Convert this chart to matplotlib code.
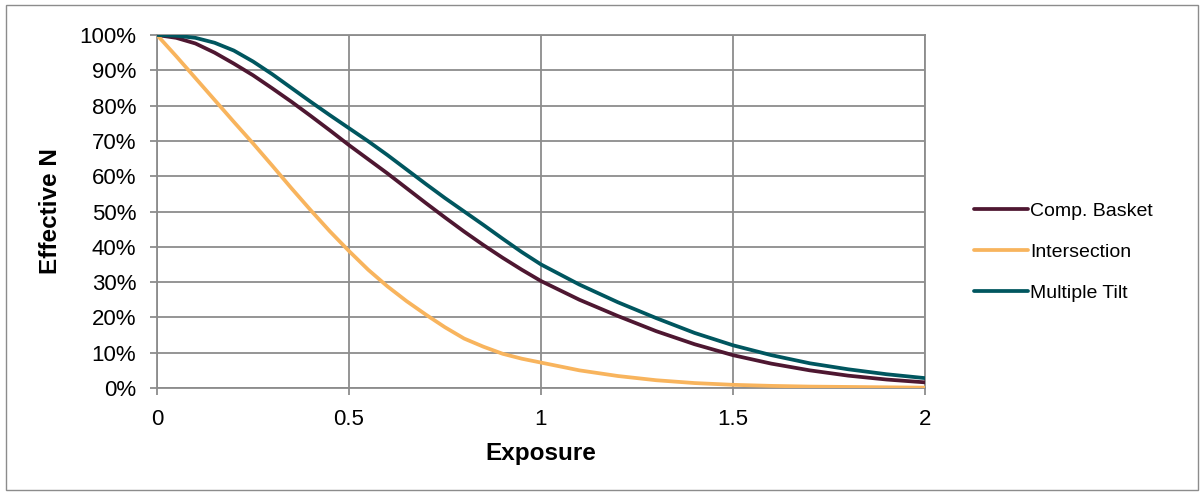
import matplotlib.pyplot as plt
from matplotlib.patches import Rectangle
from matplotlib.ticker import FuncFormatter, MultipleLocator

plt.rcParams["font.family"] = ["Liberation Sans", "DejaVu Sans"]

# Exposure grid (x) and Effective N in %
exposure = [0.00, 0.05, 0.10, 0.15, 0.20, 0.25, 0.30, 0.35, 0.40, 0.45, 0.50,
            0.55, 0.60, 0.65, 0.70, 0.75, 0.80, 0.85, 0.90, 0.95, 1.00,
            1.1, 1.2, 1.3, 1.4, 1.5, 1.6, 1.7, 1.8, 1.9, 2.0]
comp_basket = [100, 99.2, 97.6, 95.0, 91.9, 88.6, 84.9, 81.1, 77.1, 73.0, 68.8,
               64.8, 60.8, 56.6, 52.4, 48.3, 44.3, 40.5, 36.9, 33.5, 30.3,
               25.0, 20.4, 16.1, 12.4, 9.3, 6.9, 5.0, 3.5, 2.4, 1.6]
intersection = [100, 94.0, 87.8, 81.6, 75.4, 69.3, 63.0, 56.6, 50.4, 44.4, 38.8,
                33.5, 28.8, 24.6, 20.8, 17.2, 14.0, 11.7, 9.7, 8.3, 7.2,
                5.0, 3.4, 2.2, 1.4, 0.9, 0.6, 0.4, 0.3, 0.2, 0.1]
multiple_tilt = [100, 99.8, 99.2, 97.8, 95.6, 92.5, 88.9, 85.0, 81.1, 77.3, 73.6,
                 69.9, 66.0, 61.9, 57.8, 53.8, 50.0, 46.2, 42.3, 38.5, 35.0,
                 29.3, 24.3, 19.8, 15.6, 12.1, 9.3, 7.0, 5.3, 3.9, 2.8]

SERIES = [
    ("Comp. Basket", comp_basket, "#4E1731"),
    ("Intersection", intersection, "#F8B45D"),
    ("Multiple Tilt", multiple_tilt, "#00565F"),
]
GRID = "#8C8C8C"

fig = plt.figure(figsize=(12.04, 4.95), dpi=100)
ax = fig.add_axes([157 / 1204, 1 - 388 / 495, (925 - 157) / 1204, (388 - 35) / 495])

for label, values, color in SERIES:
    ax.plot(exposure, values, color=color, linewidth=2.7, label=label,
            solid_capstyle="round", solid_joinstyle="round", zorder=3)

ax.set_xlim(0, 2)
ax.set_ylim(0, 100)
ax.xaxis.set_major_locator(MultipleLocator(0.5))
ax.yaxis.set_major_locator(MultipleLocator(10))
ax.xaxis.set_major_formatter(FuncFormatter(lambda v, _: f"{v:g}"))
ax.yaxis.set_major_formatter(FuncFormatter(lambda v, _: f"{v:.0f}%"))
ax.grid(True, color=GRID, linewidth=1.3)
ax.set_axisbelow(True)
for sp in ax.spines.values():
    sp.set_color(GRID)
    sp.set_linewidth(1.3)
ax.tick_params(direction="out", length=5, width=1.3, color=GRID, labelsize=16)
ax.tick_params(axis="y", pad=10)
ax.tick_params(axis="x", pad=10)

ax.set_xlabel("Exposure", fontsize=17.5, fontweight="bold", labelpad=9)
ax.set_ylabel("Effective N", fontsize=17.5, fontweight="bold", labelpad=12)

fig.legend(loc="center left", bbox_to_anchor=(956 / 1204, 1 - 252 / 495),
           frameon=False, fontsize=14, handlelength=2.8, handletextpad=0.1,
           labelspacing=1.2)

fig.patches.append(Rectangle((6 / 1204, 1 - 490 / 495), 1192 / 1204, 485 / 495,
                             transform=fig.transFigure, fill=False,
                             edgecolor="#8C8C8C", linewidth=1.0))

fig.savefig("out.png", dpi=100)
